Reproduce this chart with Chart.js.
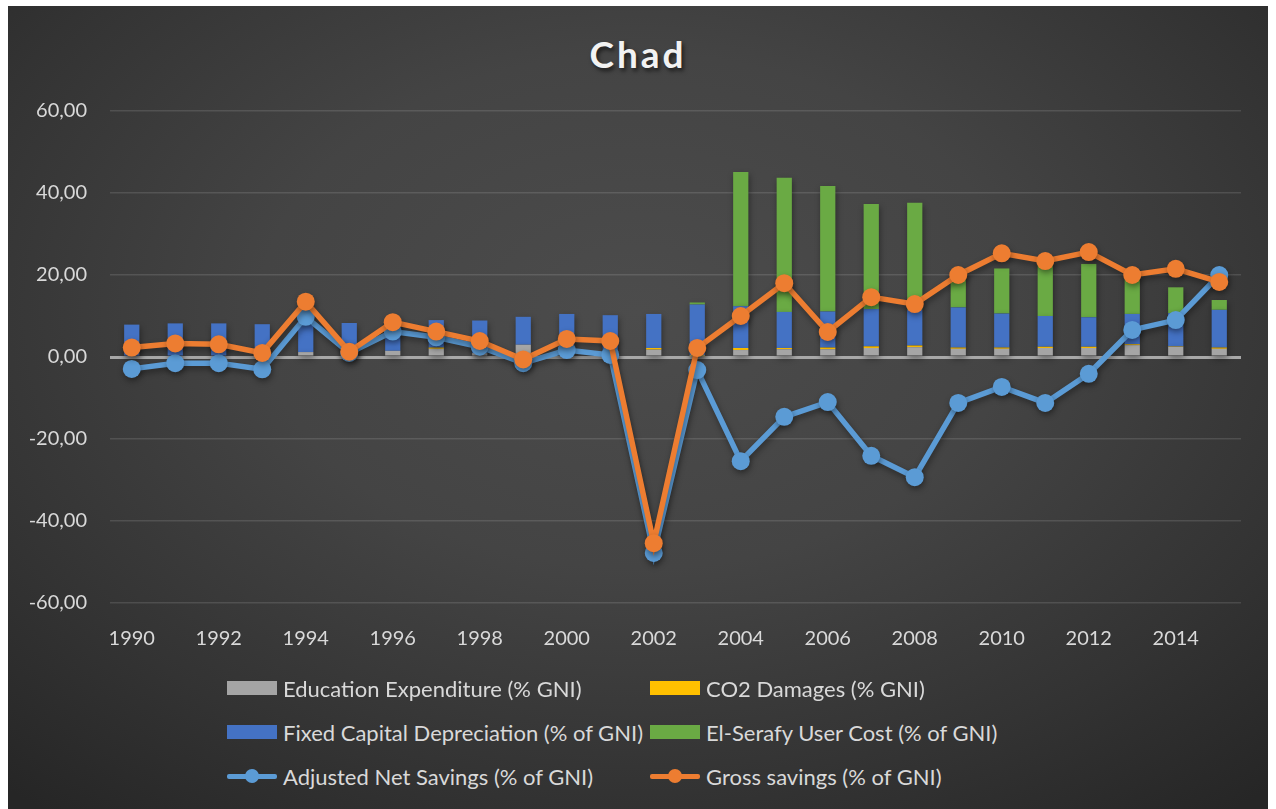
<!DOCTYPE html>
<html lang="en">
<head>
  <meta charset="UTF-8" />
  <title>Chad</title>
  <script src="https://cdn.jsdelivr.net/npm/chart.js"></script>
  <style>
    body {
      margin: 0;
      background: #ffffff;
      font-family: 'Lato', sans-serif;
    }

    .frame {
      position: absolute;
      left: 8px;
      top: 6px;
      width: 1260px;
      height: 803px;
      background: radial-gradient(ellipse 75% 80% at 50% 38%, #4c4c4c 0%, #444444 40%, #333333 75%, #262626 100%);
      overflow: hidden;
    }

    .title {
      position: absolute;
      left: 0;
      width: 100%;
      top: 25px;
      text-align: center;
      font-size: 37px;
      font-weight: bold;
      letter-spacing: 3px;
      color: #f2f2f2;
      text-shadow: 2px 3px 4px rgba(0,0,0,0.6);
    }

    #chart {
      position: absolute;
      left: 0;
      top: 0;
    }

    .legend-item {
      position: absolute;
      display: flex;
      align-items: center;
      font-size: 22px;
      color: #d9d9d9;
      height: 26px;
      white-space: nowrap;
    }

    .swatch {
      width: 50px;
      height: 14px;
      margin-right: 6px;
    }

    .line-swatch {
      position: relative;
      width: 50px;
      height: 14px;
      margin-right: 6px;
    }
    .line-swatch .ln {
      position: absolute;
      left: 0;
      top: 5px;
      width: 50px;
      height: 5px;
      border-radius: 2px;
    }
    .line-swatch .dot {
      position: absolute;
      left: 18px;
      top: 0;
      width: 14px;
      height: 14px;
      border-radius: 50%;
    }
  </style>
</head>
<body>

<div class="frame">
  <div class="title">Chad</div>
  <canvas id="chart" width="1260" height="700"></canvas>
  <div id="legend"></div>
</div>

<script>
  // Data
  const years = ['1990','1991','1992','1993','1994','1995','1996','1997','1998','1999',
                 '2000','2001','2002','2003','2004','2005','2006','2007','2008','2009',
                 '2010','2011','2012','2013','2014','2015'];

  const education = [0, 0, 0, 0, 1.2, 0, 1.5, 2.0, 1.0, 3.0,
                     0.7, 0.5, 1.8, 0, 1.7, 1.9, 1.9, 2.2, 2.4, 2.0,
                     2.0, 2.2, 2.2, 2.9, 2.5, 2.0];

  const co2Damages = [0, 0, 0, 0, 0, 0, 0, 0.3, 0, 0,
                      0, 0, 0.4, 0.2, 0.5, 0.3, 0.4, 0.4, 0.4, 0.3,
                      0.3, 0.3, 0.3, 0.2, 0.1, 0.3];

  const fixedCapital = [7.9, 8.2, 8.2, 8.0, 7.3, 8.3, 7.0, 6.7, 7.9, 6.8,
                        9.8, 9.7, 8.3, 12.6, 10.2, 8.8, 8.8, 9.1, 8.7, 9.8,
                        8.3, 7.5, 7.2, 7.4, 8.1, 9.2];

  const elSerafy = [0, 0, 0, 0, 0, 0, 0, 0, 0, 0,
                    0, 0, 0, 0.5, 32.7, 32.7, 30.6, 25.6, 26.1, 8.9,
                    11.0, 13.0, 13.0, 9.0, 6.3, 2.4];

  const adjustedNetSavings = [-2.9, -1.5, -1.5, -3.0, 9.8, 1.0, 6.2, 4.8, 2.5, -1.5,
                              1.7, 0.5, -47.8, -3.2, -25.4, -14.6, -11.0, -24.1, -29.3, -11.2,
                              -7.3, -11.2, -4.1, 6.6, 9.0, 20.0];

  const grossSavings = [2.3, 3.3, 3.1, 1.0, 13.5, 1.3, 8.5, 6.2, 3.9, -0.6,
                        4.4, 3.9, -45.4, 2.2, 10.0, 18.0, 6.1, 14.6, 12.9, 20.0,
                        25.3, 23.4, 25.6, 20.0, 21.5, 18.3];

  const yTicks = [-60, -40, -20, 0, 20, 40, 60];

  Chart.defaults.font.family = 'Lato, sans-serif';
  Chart.defaults.color = '#d9d9d9';

  // soft drop shadow like the Excel style
  const shadowPlugin = {
    id: 'shadow',
    beforeDatasetsDraw(chart) {
      const ctx = chart.ctx;
      ctx.save();
      ctx.shadowColor = 'rgba(0,0,0,0.4)';
      ctx.shadowBlur = 6;
      ctx.shadowOffsetX = 1;
      ctx.shadowOffsetY = 3;
    },
    afterDatasetsDraw(chart) {
      chart.ctx.restore();
    }
  };

  const barOpts = { type: 'bar', stack: 'costs', barPercentage: 0.35, categoryPercentage: 1, order: 3 };

  const chart = new Chart(document.getElementById('chart'), {
    data: {
      labels: years,
      datasets: [
        Object.assign({ label: 'Education Expenditure (% GNI)', data: education, backgroundColor: '#a5a5a5' }, barOpts),
        Object.assign({ label: 'CO2 Damages (% GNI)', data: co2Damages, backgroundColor: '#ffc000' }, barOpts),
        Object.assign({ label: 'Fixed Capital Depreciation (% of GNI)', data: fixedCapital, backgroundColor: '#4472c4' }, barOpts),
        Object.assign({ label: 'El-Serafy User Cost (% of GNI)', data: elSerafy, backgroundColor: '#6aaa44' }, barOpts),
        {
          type: 'line',
          label: 'Adjusted Net Savings (% of GNI)',
          data: adjustedNetSavings,
          stack: 'ans',
          borderColor: '#5b9bd5',
          backgroundColor: '#5b9bd5',
          borderWidth: 5.5,
          pointRadius: 9,
          pointHoverRadius: 9,
          pointBorderWidth: 0,
          tension: 0,
          order: 1
        },
        {
          type: 'line',
          label: 'Gross savings (% of GNI)',
          data: grossSavings,
          stack: 'gross',
          borderColor: '#ed7d31',
          backgroundColor: '#ed7d31',
          borderWidth: 5.5,
          pointRadius: 9,
          pointHoverRadius: 9,
          pointBorderWidth: 0,
          tension: 0,
          order: 0
        }
      ]
    },
    options: {
      responsive: false,
      animation: false,
      layout: { padding: { left: 0, right: 27, top: 105, bottom: 43 } },
      plugins: {
        legend: { display: false },
        title: { display: false },
        tooltip: { enabled: false }
      },
      scales: {
        x: {
          stacked: true,
          grid: { display: false },
          border: { display: false },
          ticks: {
            autoSkip: false,
            maxRotation: 0,
            padding: 16,
            font: { size: 20 },
            callback: function(val, i) {
              return i % 2 === 0 ? this.getLabelForValue(val) : '';
            }
          },
          afterFit: function(scale) { scale.height = 60; }
        },
        y: {
          stacked: true,
          min: yTicks[0],
          max: yTicks[yTicks.length - 1],
          afterBuildTicks: function(scale) {
            scale.ticks = yTicks.map(v => ({ value: v }));
          },
          border: { display: false },
          grid: {
            drawTicks: false,
            color: c => c.tick.value === 0 ? '#a8a8a8' : 'rgba(255,255,255,0.12)',
            lineWidth: c => c.tick.value === 0 ? 3 : 1.5
          },
          ticks: {
            padding: 23,
            font: { size: 20 },
            callback: v => v.toFixed(2).replace('.', ',')
          },
          afterFit: function(scale) { scale.width = 102; }
        }
      }
    },
    plugins: [shadowPlugin]
  });

  // HTML legend in two columns, built from the chart datasets
  const legendEl = document.getElementById('legend');
  const colX = [219, 642];
  const rowY = [669, 713, 757];
  chart.data.datasets.forEach(function(ds, i) {
    const item = document.createElement('div');
    item.className = 'legend-item';
    item.style.left = colX[i % 2] + 'px';
    item.style.top = rowY[Math.floor(i / 2)] + 'px';
    if (ds.type === 'line') {
      item.innerHTML = '<div class="line-swatch"><div class="ln" style="background:' + ds.borderColor +
        '"></div><div class="dot" style="background:' + ds.borderColor + '"></div></div>';
    } else {
      item.innerHTML = '<div class="swatch" style="background:' + ds.backgroundColor + '"></div>';
    }
    const span = document.createElement('span');
    span.textContent = ds.label;
    item.appendChild(span);
    legendEl.appendChild(item);
  });
</script>

</body>
</html>
